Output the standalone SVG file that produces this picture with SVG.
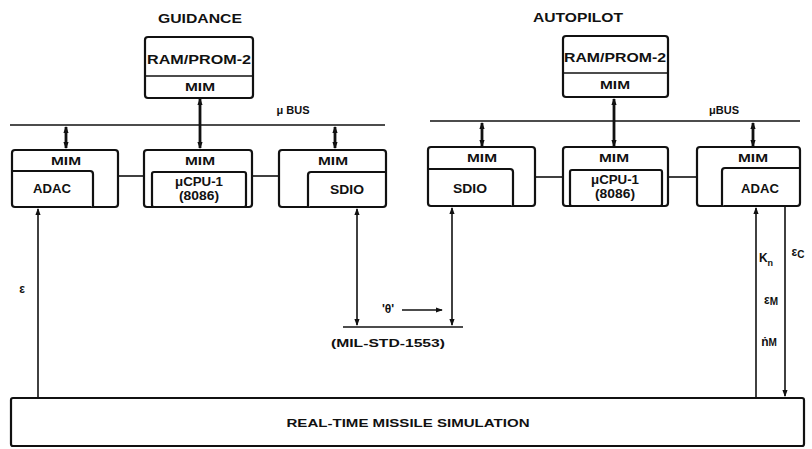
<svg xmlns="http://www.w3.org/2000/svg" width="812" height="449" viewBox="0 0 812 449">
<defs>
<style>
text{font-family:"Liberation Sans",Arial,sans-serif;font-weight:bold;fill:#111;text-anchor:middle}
.t{font-size:13px}
.m{font-size:11px}
.l{font-size:12px}
.box{fill:#fff;stroke:#111;stroke-width:2.2}
.ln{stroke:#111;stroke-width:1.6;fill:none}
.bus{stroke:#111;stroke-width:1.4;fill:none}
.tap{stroke:#111;stroke-width:2.8;fill:none}
</style>
<marker id="ah" viewBox="0 0 8 8" refX="7" refY="4" markerWidth="4.5" markerHeight="4.5" orient="auto-start-reverse">
<path d="M0,1 L8,4 L0,7 Z" fill="#111"/>
</marker>
<marker id="sm" viewBox="0 0 8 8" refX="7" refY="4" markerWidth="2.6" markerHeight="2.6" orient="auto-start-reverse">
<path d="M0,1 L8,4 L0,7 Z" fill="#111"/>
</marker>
</defs>
<rect width="812" height="449" fill="#fff"/>

<g id="connectors">
<line class="bus" x1="10" y1="125" x2="385" y2="125"/>
<line class="bus" x1="430" y1="121" x2="800" y2="121"/>
<line class="tap" x1="200" y1="99" x2="200" y2="148" marker-start="url(#sm)" marker-end="url(#sm)"/>
<line class="tap" x1="66" y1="127" x2="66" y2="148" marker-start="url(#sm)" marker-end="url(#sm)"/>
<line class="tap" x1="335" y1="127" x2="335" y2="148" marker-start="url(#sm)" marker-end="url(#sm)"/>
<line class="tap" x1="614" y1="99" x2="614" y2="146" marker-start="url(#sm)" marker-end="url(#sm)"/>
<line class="tap" x1="482" y1="123" x2="482" y2="146" marker-start="url(#sm)" marker-end="url(#sm)"/>
<line class="tap" x1="753" y1="123" x2="753" y2="146" marker-start="url(#sm)" marker-end="url(#sm)"/>
<line class="ln" x1="118" y1="176" x2="144" y2="176"/>
<line class="ln" x1="252" y1="176" x2="279" y2="176"/>
<line class="ln" x1="535" y1="177" x2="563" y2="177"/>
<line class="ln" x1="668" y1="177" x2="697" y2="177"/>
<line class="ln" x1="38" y1="398" x2="38" y2="209" marker-end="url(#ah)"/>
<line class="ln" x1="357" y1="209" x2="357" y2="325" marker-start="url(#ah)" marker-end="url(#ah)"/>
<line class="ln" x1="452" y1="208" x2="452" y2="325" marker-start="url(#ah)" marker-end="url(#ah)"/>
<line class="bus" x1="343" y1="327" x2="463" y2="327"/>
<line class="ln" x1="402" y1="310" x2="442" y2="310" marker-end="url(#ah)"/>
<line class="ln" x1="756" y1="398" x2="756" y2="208" marker-end="url(#ah)"/>
<line class="ln" x1="785" y1="207" x2="785" y2="396" marker-end="url(#ah)"/>
</g>

<g id="labels">
<text class="t" x="200" y="23" textLength="84" lengthAdjust="spacingAndGlyphs">GUIDANCE</text>
<text class="t" x="578" y="22" textLength="90" lengthAdjust="spacingAndGlyphs">AUTOPILOT</text>
<text class="m" x="293" y="114">μ BUS</text>
<text class="m" x="724" y="114">μBUS</text>
<text class="l" x="22" y="293">ε</text>
<text class="l" x="388" y="313">'θ'</text>
<text class="m" x="388" y="347" textLength="114" lengthAdjust="spacingAndGlyphs">(MIL-STD-1553)</text>
<text class="l" x="766" y="262">K<tspan font-size="9" dy="4">n</tspan></text>
<text class="l" x="798" y="256">ε<tspan font-size="10" dy="2">C</tspan></text>
<text class="l" x="771" y="304">ε<tspan font-size="10" dy="1">M</tspan></text>
<text class="l" x="769" y="346">ṅ<tspan font-size="10" dy="0">M</tspan></text>
</g>

<g id="guidance-ram">
<rect class="box" x="145" y="37" width="108" height="61" rx="3"/>
<line class="ln" x1="145" y1="76" x2="253" y2="76" stroke-width="2"/>
<text class="l" x="199" y="64" textLength="104" lengthAdjust="spacingAndGlyphs">RAM/PROM-2</text>
<text class="m" x="200" y="91" textLength="30" lengthAdjust="spacingAndGlyphs">MIM</text>
</g>

<g id="guidance-adac">
<rect class="box" x="12" y="150" width="106" height="57" rx="3"/>
<path class="box" d="M12,171 H90 Q93,171 93,174 V207" fill="none"/>
<text class="m" x="66" y="165" textLength="30" lengthAdjust="spacingAndGlyphs">MIM</text>
<text class="l" x="52" y="193" textLength="38" lengthAdjust="spacingAndGlyphs">ADAC</text>
</g>

<g id="guidance-cpu">
<rect class="box" x="144" y="150" width="108" height="57" rx="3"/>
<rect class="box" x="152" y="172" width="94" height="35" rx="2"/>
<text class="m" x="200" y="165" textLength="30" lengthAdjust="spacingAndGlyphs">MIM</text>
<text class="l" x="199" y="186" textLength="48" lengthAdjust="spacingAndGlyphs">μCPU-1</text>
<text class="l" x="199" y="200" textLength="40" lengthAdjust="spacingAndGlyphs">(8086)</text>
</g>

<g id="guidance-sdio">
<rect class="box" x="279" y="150" width="107" height="57" rx="3"/>
<path class="box" d="M308,207 V175 Q308,172 311,172 H386" fill="none"/>
<text class="m" x="333" y="165" textLength="30" lengthAdjust="spacingAndGlyphs">MIM</text>
<text class="l" x="347" y="194" textLength="34" lengthAdjust="spacingAndGlyphs">SDIO</text>
</g>

<g id="autopilot-ram">
<rect class="box" x="563" y="36" width="105" height="61" rx="3"/>
<line class="ln" x1="563" y1="73" x2="668" y2="73" stroke-width="2"/>
<text class="l" x="615" y="62" textLength="102" lengthAdjust="spacingAndGlyphs">RAM/PROM-2</text>
<text class="m" x="615" y="89" textLength="30" lengthAdjust="spacingAndGlyphs">MIM</text>
</g>

<g id="autopilot-sdio">
<rect class="box" x="428" y="147" width="107" height="59" rx="3"/>
<path class="box" d="M428,169 H510 Q513,169 513,172 V206" fill="none"/>
<text class="m" x="482" y="162" textLength="30" lengthAdjust="spacingAndGlyphs">MIM</text>
<text class="l" x="470" y="193" textLength="34" lengthAdjust="spacingAndGlyphs">SDIO</text>
</g>

<g id="autopilot-cpu">
<rect class="box" x="563" y="147" width="105" height="59" rx="3"/>
<rect class="box" x="570" y="170" width="92" height="36" rx="2"/>
<text class="m" x="614" y="162" textLength="30" lengthAdjust="spacingAndGlyphs">MIM</text>
<text class="l" x="615" y="184" textLength="48" lengthAdjust="spacingAndGlyphs">μCPU-1</text>
<text class="l" x="615" y="198" textLength="40" lengthAdjust="spacingAndGlyphs">(8086)</text>
</g>

<g id="autopilot-adac">
<rect class="box" x="697" y="147" width="103" height="59" rx="3"/>
<path class="box" d="M722,206 V171 Q722,168 725,168 H800" fill="none"/>
<text class="m" x="753" y="162" textLength="30" lengthAdjust="spacingAndGlyphs">MIM</text>
<text class="l" x="760" y="193" textLength="38" lengthAdjust="spacingAndGlyphs">ADAC</text>
</g>

<g id="simulation">
<rect class="box" x="11" y="398" width="793" height="48" rx="2"/>
<text class="m" x="408" y="427" textLength="243" lengthAdjust="spacingAndGlyphs">REAL-TIME MISSILE SIMULATION</text>
</g>
</svg>
